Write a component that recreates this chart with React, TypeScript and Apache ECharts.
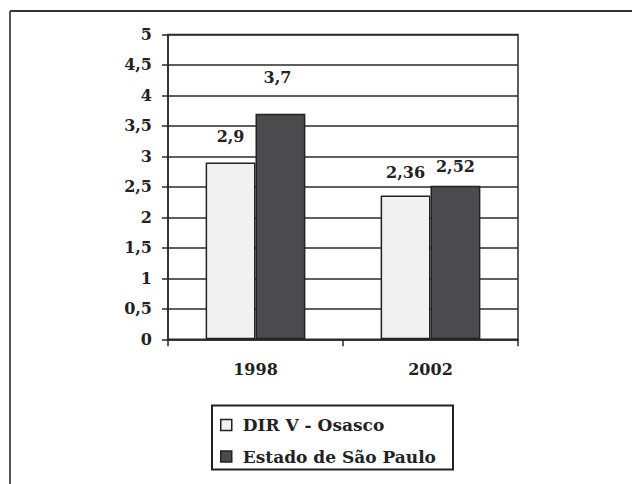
import React, { useEffect, useRef } from "react";
import * as echarts from "echarts";

const categories = ["1998", "2002"];
const seriesNames = ["DIR V - Osasco", "Estado de São Paulo"];
const osascoValues = [2.9, 2.36];
const estadoValues = [3.7, 2.52];
const yTicks = [0, 0.5, 1, 1.5, 2, 2.5, 3, 3.5, 4, 4.5, 5];

// label lift above bar tops (style only)
const osascoLabelLift = [18, 15];
const estadoLabelLift = [28, 11];

const FONT = "'DejaVu Serif', serif";
const fmt = (v: number) => String(v).replace(".", ",");

export default function App() {
  const ref = useRef<HTMLDivElement>(null);
  useEffect(() => {
    if (!ref.current) return;
    const chart = echarts.init(ref.current, null, { renderer: "svg" });
    const labelBase = {
      show: true,
      position: "top",
      fontFamily: FONT,
      fontWeight: "bold",
      fontSize: 16,
      color: "#222",
      formatter: (p: any) => fmt(p.value),
    };
    chart.setOption({
      animation: false,
      backgroundColor: "#fff",
      textStyle: { fontFamily: FONT },
      grid: {
        left: 168,
        right: 114,
        top: 34.5,
        bottom: 484 - 339.3,
        show: true,
        borderColor: "#2a2a2a",
        borderWidth: 1.5,
      },
      xAxis: {
        type: "category",
        data: categories,
        axisLine: { lineStyle: { color: "#2a2a2a", width: 1.5 } },
        axisTick: { show: true, length: 7, lineStyle: { color: "#2a2a2a", width: 1.5 } },
        axisLabel: {
          margin: 22,
          fontFamily: FONT,
          fontWeight: "bold",
          fontSize: 16,
          color: "#222",
        },
      },
      yAxis: {
        type: "value",
        min: 0,
        max: 5,
        interval: 0.5,
        axisLine: { show: true, lineStyle: { color: "#2a2a2a", width: 1.5 } },
        axisTick: { show: true, length: 6, lineStyle: { color: "#2a2a2a", width: 1.5 } },
        splitLine: { show: true, lineStyle: { color: "#2a2a2a", width: 1.5 } },
        axisLabel: {
          margin: 16,
          fontFamily: FONT,
          fontWeight: "bold",
          fontSize: 16,
          color: "#222",
          formatter: (v: number) => (yTicks.includes(v) ? fmt(v) : ""),
        },
      },
      legend: {
        orient: "vertical",
        left: 220,
        top: 416.5,
        padding: 0,
        itemWidth: 11,
        itemHeight: 11,
        itemGap: 14.5,
        icon: "rect",
        itemStyle: { borderColor: "#222", borderWidth: 1.5 },
        textStyle: {
          fontFamily: FONT,
          fontWeight: "bold",
          fontSize: 17,
          color: "#222",
          padding: [0, 0, 0, 6],
        },
        data: seriesNames,
      },
      graphic: [
        {
          type: "line",
          shape: { x1: 10, y1: 11, x2: 632, y2: 11 },
          style: { stroke: "#333", lineWidth: 2 },
        },
        {
          type: "line",
          shape: { x1: 10, y1: 11, x2: 10, y2: 484 },
          style: { stroke: "#555", lineWidth: 2 },
        },
        {
          type: "rect",
          shape: { x: 212, y: 405.5, width: 241, height: 64 },
          style: { fill: "none", stroke: "#222", lineWidth: 2 },
        },
      ],
      series: [
        {
          name: seriesNames[0],
          type: "bar",
          barGap: "0%",
          barCategoryGap: "43%",
          itemStyle: { color: "#f0f1f0", borderColor: "#222", borderWidth: 1.5 },
          label: labelBase,
          data: osascoValues.map((v, i) => ({
            value: v,
            label: { distance: osascoLabelLift[i] },
          })),
        },
        {
          name: seriesNames[1],
          type: "bar",
          itemStyle: { color: "#4b4b4d", borderColor: "#222", borderWidth: 1.5 },
          label: labelBase,
          data: estadoValues.map((v, i) => ({
            value: v,
            label: { distance: estadoLabelLift[i], offset: i === 0 ? [-3, 0] : [0, 0] },
          })),
        },
      ],
    });
    return () => chart.dispose();
  }, []);
  return (
    <div
      ref={ref}
      style={{ position: "absolute", left: 0, top: 0, width: 632, height: 484 }}
    />
  );
}
